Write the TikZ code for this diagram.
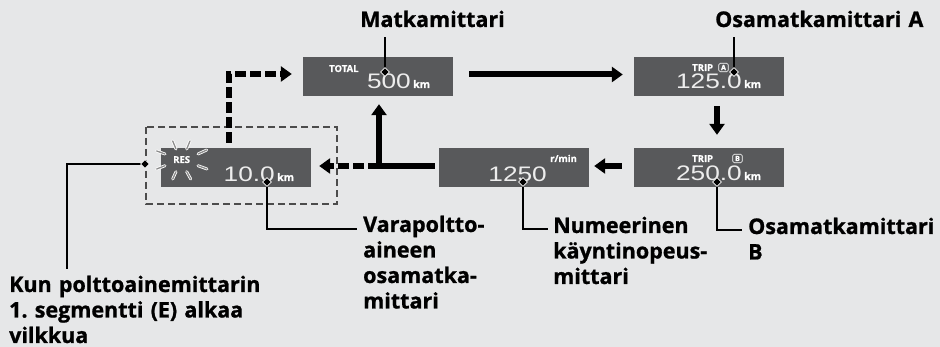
\documentclass[tikz,border=0pt]{standalone}
\usepackage{fontspec}
\setmainfont{Open Sans}[BoldFeatures={FakeBold=1}]
\newfontfamily\segfont[FakeStretch=1.25]{Liberation Sans}
\usetikzlibrary{arrows.meta,shapes.geometric}
\definecolor{bgc}{HTML}{E6E7E8}
\definecolor{lcd}{HTML}{58595B}
\definecolor{seg}{HTML}{EDEDED}
\frenchspacing
\begin{document}
\begin{tikzpicture}[x=1pt,y=-1pt,
  lcdbox/.style={fill=lcd, draw=none, minimum width=150pt, minimum height=39pt, inner sep=0pt},
  small/.style={text=white, font=\fontsize{9.5}{11}\selectfont\bfseries, inner sep=0pt, anchor=base west},
  tag/.style={draw=white, line width=0.6pt, rounded corners=1.5pt, text=white, font=\fontsize{7}{8}\selectfont\bfseries, inner sep=0pt, minimum width=9.5pt, minimum height=8.5pt},
  digits/.style={text=seg, font=\segfont\fontsize{21}{24}\selectfont, inner sep=0pt, anchor=base east},
  unit/.style={text=white, font=\fontsize{10.5}{12}\selectfont\bfseries, inner sep=0pt, anchor=base west},
  lbl/.style={font=\fontsize{21.5}{25.5}\selectfont\bfseries, align=left, text width=290pt, inner sep=0pt, anchor=base west},
  flow/.style={line width=6pt, -{Triangle[width=15pt,length=11pt]}},
  flowd/.style={flow, dash pattern=on 11pt off 4pt},
  lead/.style={line width=2pt},
  dot/.style={diamond, fill=black, draw=white, line width=0.8pt, minimum size=9pt, inner sep=0pt},
  ray/.style={line width=0.8pt, draw=white, double=black!45, double distance=1.3pt, line cap=round},
  grp/.style={draw=black!70, line width=1.2pt, dash pattern=on 7pt off 4pt}
]
\fill[bgc] (0,0) rectangle (940,347);
\useasboundingbox (0,0) rectangle (940,347);

% displays
\node[lcdbox] (total) at (378,76.5) {};
\node[lcdbox] (tripa) at (709,76.5) {};
\node[lcdbox] (tripb) at (709,167.5) {};
\node[lcdbox] (rpm)   at (514,167.5) {};
\node[lcdbox] (res)   at (236,167.5) {};

% group box
\draw[grp] (146,127) rectangle (337,204);

% display contents
\node[small] (ttot) at (329,72) {TOTAL};
\node[digits] (ntot) at (411,89) {500};
\node[unit] (ktot) at (413,88) {km};

\node[small] (ttra) at (692,71) {TRIP};
\node[tag] (taga) at (723.5,67.5) {A};
\node[digits] (ntra) at (742,89) {125.0};
\node[unit] (ktra) at (744,88) {km};

\node[small] (ttrb) at (692,162) {TRIP};
\node[tag] (tagb) at (737.5,158.5) {B};
\node[digits] (ntrb) at (742,181) {250.0};
\node[unit] (ktrb) at (744,180) {km};

\node[small] (trpm) at (550,162) {r/min};
\node[digits] (nrpm) at (547,182) {1250};

\node[small] (tres) at (173,163) {RES};
\node[digits] (nres) at (275,182) {10.0};
\node[unit] (kres) at (277,181) {km};

% blinking rays
\draw[ray] (172.7,141) -- (176,149);
\draw[ray] (190,141) -- (186.7,149);
\draw[ray] (198,154) -- (206.7,150);
\draw[ray] (198,165.7) -- (207,169);
\draw[ray] (186.7,171.7) -- (190.7,179);
\draw[ray] (176,171.7) -- (172.7,179);
\draw[ray] (165,165.7) -- (156.7,169);
\draw[ray] (165,154) -- (156.7,151);

% flow arrows
\draw[flow, shorten <=16pt, shorten >=11pt] ([yshift=2pt]total.east) -- ([yshift=2pt]tripa.west);
\draw[flow, shorten <=10pt, shorten >=13pt] ([xshift=8pt]tripa.south) -- ([xshift=8pt]tripb.north);
\draw[flow, shorten <=12pt, shorten >=5pt] ([yshift=1.5pt]tripb.west) -- ([yshift=1.5pt]rpm.east);
\coordinate (corner) at (379,166);
\draw[line width=6pt, -{Triangle[width=15pt,length=11pt]}, shorten >=8pt]
  ([xshift=-4pt,yshift=1.5pt]rpm.west) -- (corner) -- (corner |- total.south);
\draw[flowd, shorten >=8pt] (corner) -- (corner -| res.east);
\coordinate (rcorner) at (229,74);
\draw[flowd, shorten <=5pt, shorten >=11pt] (rcorner |- res.north) -- (rcorner) -- (rcorner -| total.west);

% leaders
\coordinate (p1) at (385,72);
\coordinate (p2) at (734,72);
\coordinate (p3) at (717,182);
\coordinate (p4) at (523,182);
\coordinate (p5) at (267,182);
\coordinate (p6) at (145,164);

\node[lbl] (l1) at (360,27) {Matkamittari};
\node[lbl] (l2) at (715,27) {Osamatkamittari A};
\node[lbl] (l3) at (748,234) {Osamatkamittari\\B};
\node[lbl] (l4) at (553,233) {Numeerinen\\käyntinopeus-\\mittari};
\node[lbl] (l5) at (363,232) {Varapoltto-\\aineen\\osamatka-\\mittari};
\node[lbl] (l6) at (9,292) {Kun polttoainemittarin\\1. segmentti (E) alkaa\\vilkkua};

\coordinate (e1) at (385,37);
\coordinate (e2) at (734,37);
\coordinate (e3) at (742,230);
\coordinate (e4) at (548,229);
\coordinate (e5) at (357,229);
\coordinate (e6) at (67,269);

\draw[lead] (p1) -- (e1);
\draw[lead] (p2) -- (e2);
\draw[lead] (p3) |- (e3);
\draw[lead] (p4) |- (e4);
\draw[lead] (p5) |- (e5);
\draw[lead] (p6) -| (e6);

\node[dot] (d1) at (p1) {};
\node[dot] (d2) at (p2) {};
\node[dot] (d3) at (p3) {};
\node[dot] (d4) at (p4) {};
\node[dot] (d5) at (p5) {};
\node[dot] (d6) at (p6) {};
\end{tikzpicture}
\end{document}
